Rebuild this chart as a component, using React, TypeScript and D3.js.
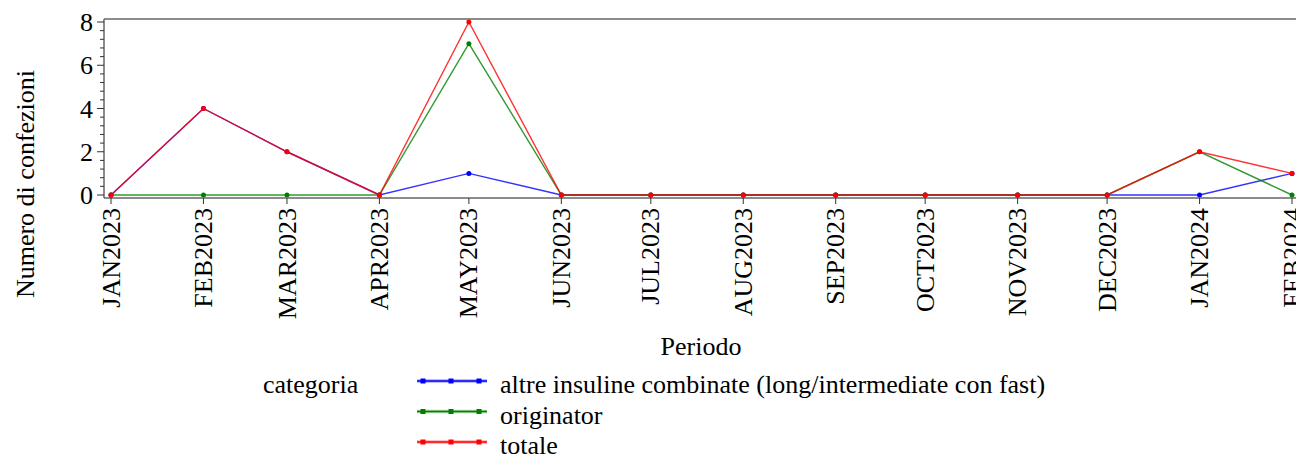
import React from "react";
import * as d3 from "d3";

const periods = ["2023-01","2023-02","2023-03","2023-04","2023-05","2023-06","2023-07","2023-08","2023-09","2023-10","2023-11","2023-12","2024-01","2024-02"];
const periodLabels = ["JAN2023","FEB2023","MAR2023","APR2023","MAY2023","JUN2023","JUL2023","AUG2023","SEP2023","OCT2023","NOV2023","DEC2023","JAN2024","FEB2024"];
const altre = [0,4,2,0,1,0,0,0,0,0,0,0,0,1];
const originator = [0,0,0,0,7,0,0,0,0,0,0,0,2,0];
const totale = [0,4,2,0,8,0,0,0,0,0,0,0,2,1];
const seriesNames = ["altre insuline combinate (long/intermediate con fast)","originator","totale"];
const seriesColors = ["#0000ff","#008000","#ff0000"];
const yTicks = [0,2,4,6,8];

const FONT = "'Liberation Serif', 'Times New Roman', serif";

export default function App() {
  const W = 1296, H = 457;
  const dates = periods.map((p) => new Date(p + "-01T00:00:00Z"));
  const x = d3.scaleUtc().domain([dates[0], dates[dates.length - 1]]).range([111, 1292]);
  const y = d3.scaleLinear().domain([0, 8]).range([195, 22]);
  const frameLeft = 104, frameTop = 19, frameBottom = 198;
  const allSeries = [altre, originator, totale];
  const line = d3.line<number>().x((_, i) => x(dates[i])).y((v) => y(v));
  const minorTicks = d3.range(0, 8.0001, 0.4).filter((v) => Math.abs(v / 2 - Math.round(v / 2)) > 1e-6);

  return (
    <svg width={W} height={H} style={{ position: "absolute", left: 0, top: 0, background: "#fff" }} fontFamily={FONT}>
      {/* frame */}
      <line x1={frameLeft} x2={W} y1={frameTop} y2={frameTop} stroke="#666" strokeWidth={1.5} />
      <line x1={frameLeft} x2={frameLeft} y1={frameTop} y2={frameBottom} stroke="#666" strokeWidth={1.5} />
      <line x1={frameLeft} x2={W} y1={frameBottom} y2={frameBottom} stroke="#666" strokeWidth={1.5} />
      {/* y ticks */}
      {yTicks.map((t) => (
        <g key={"y" + t}>
          <line x1={97} x2={frameLeft} y1={y(t)} y2={y(t)} stroke="#333" strokeWidth={1} />
          <text x={93} y={y(t)} dy="0.35em" textAnchor="end" fontSize={26} fill="#000">{t}</text>
        </g>
      ))}
      {minorTicks.map((t, i) => (
        <line key={"m" + i} x1={100} x2={frameLeft} y1={y(t)} y2={y(t)} stroke="#333" strokeWidth={1} />
      ))}
      {/* x ticks */}
      {dates.map((d, i) => (
        <g key={"x" + i}>
          <line x1={x(d)} x2={x(d)} y1={frameBottom} y2={frameBottom + 6} stroke="#333" strokeWidth={1} />
          <text transform={`translate(${x(d)},208) rotate(-90)`} dy="0.33em" textAnchor="end" fontSize={26} fill="#000">{periodLabels[i]}</text>
        </g>
      ))}
      {/* axis titles */}
      <text transform="translate(25,184) rotate(-90)" dy="0.33em" textAnchor="middle" fontSize={26} fill="#000">Numero di confezioni</text>
      <text x={701} y={355} textAnchor="middle" fontSize={26} fill="#000">Periodo</text>
      {/* series */}
      {allSeries.map((s, k) => (
        <g key={"s" + k}>
          <path d={line(s) || ""} fill="none" stroke={seriesColors[k]} strokeWidth={1.4} strokeOpacity={0.8} />
          {s.map((v, i) => (
            <circle key={i} cx={x(dates[i])} cy={y(v)} r={2.5} fill={seriesColors[k]} />
          ))}
        </g>
      ))}
      {/* legend */}
      <text x={263} y={393} fontSize={26} fill="#000">categoria</text>
      {seriesNames.map((n, k) => {
        const ly = 381 + k * 30.5;
        return (
          <g key={"l" + k}>
            <line x1={417} x2={487} y1={ly} y2={ly} stroke={seriesColors[k]} strokeWidth={3.5} strokeOpacity={0.35} />
            <line x1={417} x2={487} y1={ly} y2={ly} stroke={seriesColors[k]} strokeWidth={1.3} />
            {[423, 451, 479].map((mx) => (
              <rect key={mx} x={mx - 2.5} y={ly - 2.5} width={5} height={5} fill={seriesColors[k]} />
            ))}
            <text x={500} y={ly + 12} fontSize={26} fill="#000">{n}</text>
          </g>
        );
      })}
    </svg>
  );
}
